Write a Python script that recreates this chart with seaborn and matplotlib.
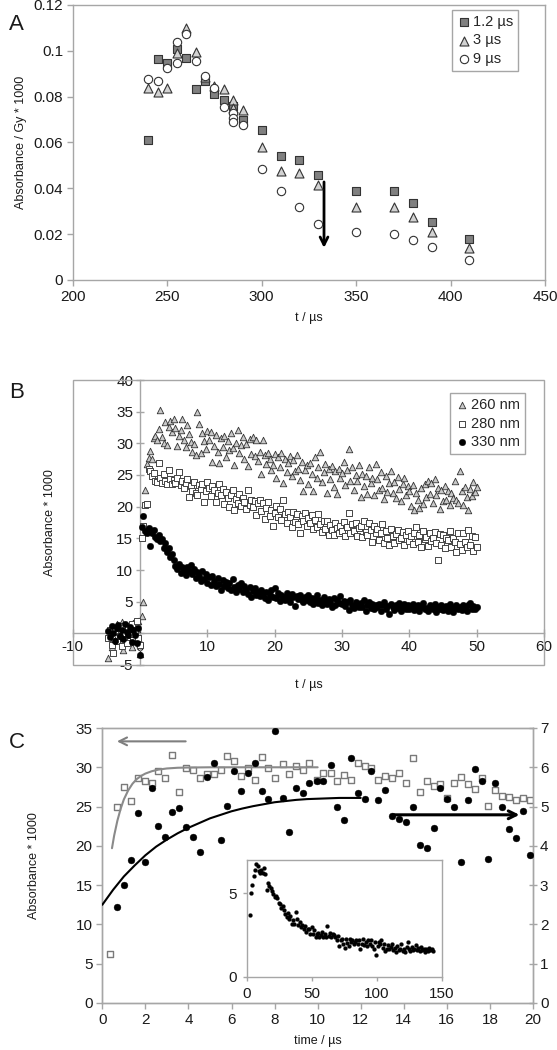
import numpy as np
import matplotlib
matplotlib.use("Agg")
import matplotlib.pyplot as plt
import seaborn as sns
from matplotlib.patches import Rectangle

sns.set_style("white")
plt.rcParams['font.family'] = ['Liberation Sans', 'DejaVu Sans']
plt.rcParams['axes.unicode_minus'] = False

# ---------------- Panel A data ----------------
a_sq_x = [240, 245, 250, 255, 260, 265, 270, 275, 280, 285, 290, 300, 310, 320, 330, 350, 370, 380, 390, 410]
a_sq_y = [0.0611, 0.0963, 0.0945, 0.1007, 0.0967, 0.0833, 0.0868, 0.0810, 0.0785, 0.0759, 0.0698, 0.0655,
          0.0541, 0.0524, 0.0460, 0.0387, 0.0387, 0.0335, 0.0253, 0.0177]
a_tri_x = [240, 245, 250, 255, 260, 265, 270, 275, 280, 285, 285, 290, 300, 310, 320, 330, 350, 370, 380, 390, 410]
a_tri_y = [0.0836, 0.0819, 0.0836, 0.0989, 0.1098, 0.0996, 0.0887, 0.0847, 0.0832, 0.0785, 0.0752, 0.0742,
           0.0579, 0.0474, 0.0468, 0.0415, 0.0320, 0.0320, 0.0273, 0.0211, 0.0138]
a_circ_x = [240, 245, 250, 255, 255, 260, 265, 270, 275, 280, 285, 285, 285, 290, 300, 310, 320, 330, 350, 370, 380, 390, 410]
a_circ_y = [0.0876, 0.0870, 0.0924, 0.1040, 0.0945, 0.1072, 0.0956, 0.0891, 0.0836, 0.0756, 0.0727, 0.0705,
            0.0690, 0.0676, 0.0484, 0.0390, 0.0317, 0.0244, 0.0211, 0.0201, 0.0175, 0.0145, 0.0087]
a_labels = ['1.2 µs', '3 µs', '9 µs']

# ---------------- Panel B data ----------------
b_step = 0.25
b_pre_260 = [-3.9, 0.5, -2.1, 0.9, -1.0, 1.4, 0.2, -0.6, 1.8, -2.7, 0.4, -1.3, 1.1, 0.0, -2.2, 1.6, -0.4, 0.7, 1.9, -3.3]
b_pre_280 = [-0.8, 0.6, -1.9, -3.1, 0.3, -1.2, 0.9, -0.5, -2.0, 1.2, 0.1, -1.5, 0.8, -0.3, 1.5, -1.0, 0.4, 2.0, -0.7, -1.8]
b_pre_330 = [0.4, -0.6, 1.1, 0.0, -1.2, 0.8, 1.3, -0.4, 0.6, -0.9, 1.5, 0.2, -0.3, 1.0, -1.4, 0.5, -0.2, -1.6, 0.9, -3.4]

b_260 = [2.7, 5.0, 22.7, 26.8, 27.7, 28.8, 27.5, 30.8, 31.2, 30.5,
         32.3, 35.2, 31.0, 30.0, 33.3, 29.8, 32.6, 33.5, 31.8, 33.9,
         32.4, 29.6, 31.2, 32.1, 33.8, 30.6, 29.4, 32.9, 31.5, 30.2,
         28.6, 29.9, 28.2, 34.9, 33.0, 28.4, 31.7, 30.3, 29.1, 32.0,
         30.5, 31.8, 27.0, 29.6, 31.3, 28.7, 26.9, 30.8, 29.5, 31.1,
         27.8, 30.3, 28.9, 31.6, 29.2, 26.5, 30.0, 32.1, 28.4, 29.8,
         31.0, 27.5, 29.9, 26.4, 30.7, 28.3, 31.0, 28.0, 30.6, 27.2,
         28.6, 25.1, 30.5, 28.1, 26.8, 28.5, 27.6, 25.8, 26.5, 28.3,
         24.5, 27.9, 26.3, 28.4, 23.8, 27.5, 25.4, 26.9, 28.0, 24.9,
         27.3, 25.6, 28.2, 26.0, 24.2, 27.0, 22.4, 25.8, 26.6, 23.6,
         26.9, 25.1, 22.5, 27.8, 24.6, 26.2, 28.7, 23.9, 25.5, 26.8,
         22.2, 25.9, 24.3, 26.4, 23.1, 25.7, 22.0, 26.0, 24.5, 25.3,
         27.1, 23.4, 25.8, 29.1, 24.0, 26.2, 22.7, 25.0, 24.1, 26.5,
         21.6, 25.2, 23.3, 24.8, 22.0, 26.3, 23.7, 24.6, 21.9, 26.8,
         24.4, 22.6, 25.4, 23.0, 21.2, 24.9, 22.3, 23.8, 25.7, 22.1,
         23.9, 21.4, 24.7, 22.8, 20.9, 23.5, 24.6, 21.8, 23.2, 22.5,
         20.1, 23.4, 19.5, 22.2, 21.0, 19.8, 22.9, 20.4, 23.6, 21.5,
         24.1, 22.0, 23.7, 20.6, 24.3, 21.8, 23.0, 19.6, 22.6, 20.9,
         23.3, 21.1, 22.5, 20.3, 22.1, 21.3, 24.0, 21.0, 20.6, 25.6,
         22.4, 20.2, 23.1, 21.5, 19.5, 22.8, 21.7, 23.9, 22.3, 23.1]
b_280 = [15.1, 17.0, 20.3, 20.4, 26.0, 25.6, 24.8, 25.3, 24.1, 23.9,
         26.9, 24.5, 23.7, 25.2, 24.0, 23.6, 25.8, 24.4, 23.5, 24.2,
         23.8, 24.6, 25.5, 23.4, 24.1, 22.9, 23.7, 24.3, 21.6, 23.2,
         22.5, 23.9, 22.2, 21.8, 23.4, 22.8, 23.6, 20.8, 22.4, 23.9,
         22.9, 21.7, 23.3, 22.6, 20.7, 22.1, 23.5, 21.9, 22.8, 20.4,
         22.3, 21.3, 20.0, 21.8, 22.7, 19.5, 21.2, 20.6, 22.0, 20.1,
         21.4, 20.8, 19.6, 22.6, 20.3, 21.0, 19.9, 20.9, 18.7, 20.5,
         21.1, 19.3, 20.6, 18.0, 19.8, 20.7, 18.6, 19.4, 16.9, 19.0,
         20.1, 18.3, 19.7, 17.9, 21.0, 18.8, 17.5, 19.2, 18.4, 16.8,
         19.1, 17.6, 18.9, 17.2, 15.8, 18.5, 17.8, 19.0, 16.9, 18.2,
         17.5, 18.7, 16.4, 17.9, 16.8, 18.9, 17.3, 16.0, 17.7, 16.5,
         17.8, 15.6, 17.1, 16.3, 15.5, 17.4, 16.7, 15.8, 17.0, 16.2,
         17.6, 15.3, 16.8, 19.0, 15.9, 17.2, 16.1, 17.5, 15.4, 16.6,
         16.9, 15.2, 17.8, 16.0, 15.6, 17.4, 16.3, 14.5, 17.0, 15.8,
         16.4, 14.8, 15.9, 17.3, 14.3, 16.1, 15.0, 13.9, 16.5, 15.4,
         14.2, 15.7, 16.3, 14.7, 15.1, 16.0, 14.0, 15.5, 16.2, 14.6,
         15.3, 14.1, 15.9, 16.8, 14.4, 15.6, 13.6, 16.1, 14.9, 15.2,
         13.8, 15.9, 14.6, 15.1, 16.0, 14.3, 11.6, 15.7, 14.0, 15.5,
         13.4, 15.1, 14.7, 16.2, 13.7, 15.0, 14.4, 12.8, 15.8, 14.1,
         13.2, 15.9, 14.5, 13.6, 16.3, 14.0, 15.4, 13.0, 15.2, 13.7]
b_330 = [16.8, 18.5, 16.2, 15.9, 16.6, 13.8, 15.8, 16.3, 15.2, 14.9,
         15.5, 14.6, 14.9, 13.5, 14.2, 12.9, 13.4, 12.1, 12.6, 11.6,
         10.6, 10.2, 10.9, 9.6, 10.4, 10.0, 9.2, 10.5, 9.9, 10.8,
         9.4, 10.1, 8.8, 9.7, 9.0, 8.3, 9.8, 8.6, 9.3, 8.0,
         8.9, 7.6, 9.1, 8.2, 7.4, 8.7, 7.8, 6.9, 8.4, 7.5,
         8.1, 7.2, 7.9, 6.8, 8.5, 7.3, 6.6, 7.7, 7.0, 8.0,
         6.5, 7.4, 6.9, 6.2, 7.3, 5.8, 6.7, 7.1, 6.0, 6.6,
         5.9, 6.8, 6.3, 5.5, 6.5, 5.2, 6.1, 6.9, 5.7, 7.2,
         5.6, 6.3, 5.1, 6.0, 5.8, 5.3, 6.4, 5.5, 5.0, 6.2,
         5.7, 4.3, 5.9, 5.4, 6.1, 5.2, 4.9, 5.8, 5.3, 6.0,
         5.0, 5.6, 4.6, 5.4, 6.0, 4.8, 5.3, 4.4, 5.7, 5.1,
         4.7, 5.4, 4.9, 4.2, 5.6, 4.5, 5.2, 4.8, 5.9, 4.6,
         5.1, 4.3, 4.9, 3.7, 5.3, 4.5, 4.0, 5.0, 4.6, 4.2,
         4.8, 4.1, 5.2, 3.6, 4.4, 4.9, 4.0, 4.6, 3.8, 4.5,
         4.2, 4.7, 3.5, 4.4, 4.9, 3.9, 4.3, 3.0, 4.6, 4.1,
         3.7, 4.5, 4.0, 4.8, 3.6, 4.2, 4.6, 3.9, 4.4, 3.8,
         4.3, 4.7, 3.7, 4.1, 4.5, 3.5, 4.2, 4.8, 3.9, 4.0,
         3.6, 4.4, 4.1, 3.8, 4.6, 3.4, 4.2, 3.9, 4.5, 3.7,
         4.0, 4.3, 3.6, 4.7, 3.9, 3.3, 4.1, 4.4, 3.8, 4.2,
         3.7, 4.5, 4.0, 3.6, 4.4, 4.8, 3.9, 4.3, 3.8, 4.1]
b_labels = ['260 nm', '280 nm', '330 nm']

# ---------------- Panel C data ----------------
c_t = [0.36, 0.70, 1.01, 1.33, 1.66, 1.97, 2.29, 2.60, 2.92, 3.25, 3.57, 3.88, 4.19, 4.52, 4.84, 5.17,
       5.49, 5.80, 6.11, 6.44, 6.75, 7.09, 7.40, 7.70, 8.03, 8.37, 8.68, 8.99, 9.30, 9.62, 9.95, 10.27,
       10.60, 10.91, 11.23, 11.57, 11.88, 12.19, 12.50, 12.81, 13.13, 13.46, 13.78, 14.11, 14.42, 14.74,
       15.07, 15.39, 15.70, 16.01, 16.33, 16.64, 16.97, 17.29, 17.61, 17.91, 18.24, 18.56, 18.87, 19.19,
       19.52, 19.84]
c_sq = [6.3, 24.9, 27.5, 25.7, 28.6, 28.3, 28.0, 29.5, 28.6, 31.6,
        26.8, 29.9, 29.7, 28.7, 29.2, 29.1, 29.7, 31.5, 30.8, 28.9,
        29.9, 28.4, 31.3, 29.9, 28.6, 30.4, 29.1, 30.2, 29.7, 30.6,
        28.4, 29.3, 29.3, 28.2, 29.0, 28.4, 30.5, 30.2, 29.9, 28.4,
        28.9, 28.6, 29.3, 28.0, 31.2, 26.9, 28.3, 27.6, 27.9, 26.1,
        28.0, 28.8, 27.9, 27.2, 28.6, 25.1, 27.1, 26.4, 26.2, 25.9,
        26.1, 25.8]
c_dot = [2.45, 3.01, 3.64, 4.84, 3.59, 5.46, 4.50, 4.23, 4.87, 4.96,
         4.49, 4.23, 3.85, 5.76, 6.12, 4.16, 5.01, 5.90, 5.40, 5.86,
         6.11, 5.40, 5.18, 6.93, 5.21, 4.35, 5.47, 5.35, 5.59, 5.64,
         5.65, 6.07, 4.98, 4.66, 6.24, 5.34, 5.19, 5.90, 5.16, 5.41,
         4.75, 4.68, 4.60, 5.00, 4.02, 3.95, 4.46, 5.47, 5.18, 4.98,
         3.59, 5.16, 5.96, 5.64, 3.66, 5.61, 4.98, 4.44, 4.19, 4.89, 3.76]
c_fit_gray_t = [0.45, 0.55, 0.7, 0.85, 1.0, 1.2, 1.4, 1.6, 1.8, 2.0, 2.3, 2.6, 3.0, 3.5, 4.0, 5.0, 10.0]
c_fit_gray_y = [19.7, 21.3, 23.2, 24.7, 25.9, 27.05, 27.9, 28.5, 28.9, 29.2, 29.5, 29.7, 29.85, 29.94, 29.97, 30.0, 30.0]
c_fit_black_t = [0, 0.5, 1, 1.5, 2, 2.5, 3, 3.5, 4, 4.5, 5, 5.5, 6, 6.5, 7, 7.5, 8, 8.5, 9, 9.5, 10, 11, 12]
c_fit_black_y = [2.5, 2.88, 3.22, 3.5, 3.76, 3.98, 4.16, 4.32, 4.46, 4.58, 4.7, 4.79, 4.88, 4.95, 5.01,
                 5.06, 5.11, 5.14, 5.17, 5.19, 5.2, 5.22, 5.22]

inset_y = [3.73, 5.0, 5.5, 6.05, 6.4, 6.75, 6.65, 6.35, 6.25, 6.4, 6.2, 6.5, 6.15, 5.2, 5.65, 5.45, 5.3, 5.15,
           4.95, 4.8, 4.85, 4.7, 4.4, 4.35, 4.15, 4.25, 4.0, 3.75, 3.6, 3.85, 3.45, 3.65, 3.2, 3.4, 3.2, 3.9,
           3.5, 3.1, 3.3, 3.0, 3.1, 2.85, 3.05, 2.7, 2.9, 2.85, 2.6, 3.0, 2.6, 2.8, 2.4, 2.55, 2.65, 2.4, 2.5,
           2.7, 2.4, 2.55, 2.4, 3.05, 2.45, 2.65, 2.4, 2.6, 2.5, 2.4, 2.2, 2.45, 1.85, 2.2, 2.3, 2.0, 1.75,
           2.25, 2.05, 1.85, 2.3, 2.1, 2.2, 2.0, 2.1, 2.2, 2.0, 2.2, 1.7, 2.0, 2.3, 1.9, 2.1, 1.85, 2.2, 2.0,
           2.2, 1.85, 1.7, 2.1, 1.3, 1.85, 2.1, 2.0, 2.2, 1.75, 2.0, 1.55, 1.7, 1.9, 1.65, 1.8, 2.0, 1.6, 1.75,
           1.5, 1.85, 1.6, 1.7, 1.95, 1.55, 1.7, 1.5, 1.8, 2.1, 1.65, 1.55, 1.8, 1.6, 1.7, 1.9, 1.6, 1.75,
           1.55, 1.8, 1.6, 1.65, 1.5, 1.7, 1.55, 1.75, 1.6, 1.65, 1.55]

# ---------------- Figure ----------------
W, H = 557, 1050
fig = plt.figure(figsize=(W / 100, H / 100), dpi=100)
FRAME = '#a6a6a6'
TXT = '#1a1a1a'
TICK_FS = 11
LAB_FS = 9


def px_axes(l, r, t, b):
    return fig.add_axes([l / W, 1 - b / H, (r - l) / W, (b - t) / H])


# ===== Panel A =====
axA = px_axes(72.8, 545, 5, 280)
sns.scatterplot(x=a_sq_x, y=a_sq_y, ax=axA, marker='s', s=36, color='#808080',
                edgecolor='#333333', linewidth=0.8, label=a_labels[0], zorder=3)
sns.scatterplot(x=a_tri_x, y=a_tri_y, ax=axA, marker='^', s=42, color='#d2d2d2',
                edgecolor='#333333', linewidth=0.8, label=a_labels[1], zorder=4)
sns.scatterplot(x=a_circ_x, y=a_circ_y, ax=axA, marker='o', s=36, color='white',
                edgecolor='#333333', linewidth=0.8, label=a_labels[2], zorder=5)
axA.set_xlim(200, 450)
axA.set_ylim(0, 0.12)
axA.set_xticks([200, 250, 300, 350, 400, 450])
axA.set_yticks([0, 0.02, 0.04, 0.06, 0.08, 0.1, 0.12])
axA.set_yticklabels(['0', '0.02', '0.04', '0.06', '0.08', '0.1', '0.12'])
for s in axA.spines.values():
    s.set_color(FRAME)
    s.set_linewidth(1)
axA.tick_params(axis='both', direction='out', length=4, width=1, color=FRAME,
                labelsize=TICK_FS, labelcolor=TXT, pad=3)
axA.tick_params(axis='x', bottom=True)
axA.tick_params(axis='y', left=True)
axA.set_xlabel('t / µs', fontsize=LAB_FS, color=TXT)
axA.set_ylabel('Absorbance / Gy * 1000', fontsize=LAB_FS, color=TXT)
axA.xaxis.set_label_coords(0.5, -0.116)
axA.yaxis.set_label_coords(-0.097, 0.5)
axA.annotate('', xy=(333, 0.0128), xytext=(333, 0.0440),
             arrowprops=dict(arrowstyle='->', color='black', lw=2, mutation_scale=14))
legA = axA.legend(loc='upper left', bbox_to_anchor=(0.803, 0.982), frameon=True, fancybox=False,
                  edgecolor=FRAME, fontsize=10.5, handletextpad=0.1, borderpad=0.35,
                  labelspacing=0.3, handlelength=1.0, borderaxespad=0, framealpha=1)
legA.get_frame().set_linewidth(1)

# ===== Panel B =====
axB = px_axes(72.8, 544, 380, 665)
sns.scatterplot(x=np.concatenate([-b_step * np.arange(len(b_pre_260))[::-1], b_step * np.arange(1, len(b_260) + 1)]),
                y=b_pre_260 + b_260, ax=axB, marker='^', s=22, color='#c8c8c8',
                edgecolor='#333333', linewidth=0.6, label=b_labels[0], zorder=3)
sns.scatterplot(x=np.concatenate([-b_step * np.arange(len(b_pre_280))[::-1], b_step * np.arange(1, len(b_280) + 1)]),
                y=b_pre_280 + b_280, ax=axB, marker='s', s=17, color='white',
                edgecolor='#444444', linewidth=0.7, label=b_labels[1], zorder=4)
sns.scatterplot(x=np.concatenate([-b_step * np.arange(len(b_pre_330))[::-1], b_step * np.arange(1, len(b_330) + 1)]),
                y=b_pre_330 + b_330, ax=axB, marker='o', s=22, color='black',
                edgecolor='black', linewidth=0.3, label=b_labels[2], zorder=5)
axB.set_xlim(-10, 60)
axB.set_ylim(-5, 40)
axB.set_xticks(list(range(-10, 61, 10)))
axB.set_xticklabels(['-10', '0', '10', '20', '30', '40', '50', '60'])
axB.set_yticks(list(range(-5, 41, 5)))
axB.set_yticklabels(['-5', '', '5', '10', '15', '20', '25', '30', '35', '40'])
axB.spines['left'].set_position(('data', 0))
axB.spines['bottom'].set_position(('data', 0))
axB.spines['top'].set_visible(False)
axB.spines['right'].set_visible(False)
for k in ['left', 'bottom']:
    axB.spines[k].set_color(FRAME)
    axB.spines[k].set_linewidth(1)
axB.add_patch(Rectangle((0, 0), 1, 1, transform=axB.transAxes, fill=False,
                        edgecolor=FRAME, lw=1, clip_on=False, zorder=1))
axB.tick_params(axis='both', direction='inout', length=6, width=1, color=FRAME,
                labelsize=TICK_FS, labelcolor=TXT, pad=2)
axB.tick_params(axis='x', bottom=True)
axB.tick_params(axis='y', left=True)
axB.set_xlabel('t / µs', fontsize=LAB_FS, color=TXT)
axB.set_ylabel('Absorbance * 1000', fontsize=LAB_FS, color=TXT)
axB.xaxis.set_label_coords(0.5, -0.049)
axB.yaxis.set_label_coords(-0.036, 0.5)
legB = axB.legend(loc='upper left', bbox_to_anchor=(0.80, 0.954), frameon=True, fancybox=False,
                  edgecolor=FRAME, fontsize=10.5, handletextpad=0.1, borderpad=0.35,
                  labelspacing=0.3, handlelength=1.0, borderaxespad=0, framealpha=1)
legB.get_frame().set_linewidth(1)

# ===== Panel C =====
axC = px_axes(102.3, 533, 728, 1003)
axC2 = axC.twinx()
sns.scatterplot(x=c_t, y=c_sq, ax=axC, marker='s', s=20, color='white',
                edgecolor='#7a7a7a', linewidth=1.0, zorder=3)
sns.lineplot(x=c_fit_gray_t, y=c_fit_gray_y, ax=axC, color='#8a8a8a', lw=1.5,
             sort=False, estimator=None, zorder=4)
axC.annotate('', xy=(0.55, 33.3), xytext=(4.0, 33.3),
             arrowprops=dict(arrowstyle='->', color='#7f7f7f', lw=1.5, mutation_scale=14))
sns.scatterplot(x=c_t[1:], y=c_dot, ax=axC2, marker='o', s=24, color='black',
                edgecolor='black', linewidth=0.3, zorder=3)
sns.lineplot(x=c_fit_black_t, y=c_fit_black_y, ax=axC2, color='black', lw=1.5,
             sort=False, estimator=None, zorder=4)
axC2.annotate('', xy=(19.5, 4.79), xytext=(13.4, 4.79),
              arrowprops=dict(arrowstyle='->', color='black', lw=2.2, mutation_scale=14))
axC.set_xlim(0, 20)
axC.set_ylim(0, 35)
axC2.set_ylim(0, 7)
axC.set_xticks(list(range(0, 21, 2)))
axC.set_yticks(list(range(0, 36, 5)))
axC2.set_yticks(list(range(0, 8)))
for ax_ in (axC, axC2):
    for s in ax_.spines.values():
        s.set_color(FRAME)
        s.set_linewidth(1)
axC.tick_params(axis='x', direction='out', length=4, width=1, color=FRAME,
                labelsize=TICK_FS, labelcolor=TXT, bottom=True, pad=3)
axC.tick_params(axis='y', direction='out', length=4, width=1, color=FRAME,
                labelsize=TICK_FS, labelcolor=TXT, left=True, pad=3)
axC2.tick_params(axis='y', direction='inout', length=6, width=1, color=FRAME,
                 labelsize=TICK_FS, labelcolor=TXT, right=True, pad=2)
axC2.set_ylabel('')
axC.set_xlabel('time / µs', fontsize=LAB_FS, color=TXT)
axC.set_ylabel('Absorbance * 1000', fontsize=LAB_FS, color=TXT)
axC.xaxis.set_label_coords(0.5, -0.116)
axC.yaxis.set_label_coords(-0.145, 0.5)

# inset
axI = px_axes(247, 442, 860, 977)
axI.set_zorder(10)
axI.set_facecolor('white')
sns.scatterplot(x=np.linspace(2, 143, len(inset_y)), y=inset_y, ax=axI, marker='o', s=8,
                color='black', edgecolor='black', linewidth=0.2)
axI.set_xlim(0, 150)
axI.set_ylim(0, 7)
axI.set_xticks([0, 50, 100, 150])
axI.set_yticks([0, 5])
for s in axI.spines.values():
    s.set_color(FRAME)
    s.set_linewidth(1)
axI.tick_params(axis='both', direction='out', length=3, width=1, color=FRAME,
                labelsize=TICK_FS, labelcolor=TXT, pad=4, bottom=True, left=True)
axI.set_xlabel('')
axI.set_ylabel('')

# panel letters
for letter, ypx in [('A', 25), ('B', 392), ('C', 743)]:
    fig.text(9 / W, 1 - ypx / H, letter, fontsize=16, color=TXT, ha='left', va='center')

fig.savefig('out.png', dpi=100)
